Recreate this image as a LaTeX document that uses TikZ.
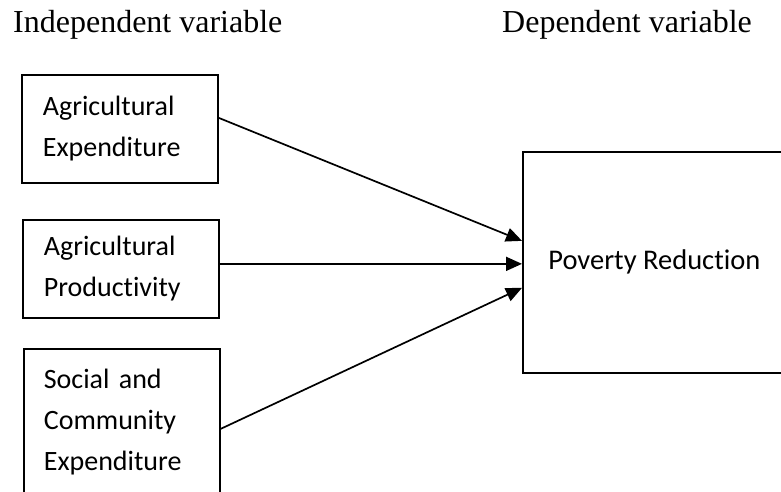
\documentclass[tikz,border=0pt]{standalone}
\usepackage{fontspec}
\setmainfont{Liberation Serif}
\newfontfamily\boxfont[Ligatures=CommonOff]{Carlito}
\usetikzlibrary{arrows.meta}
\tikzset{
  varbox/.style={draw, line width=1.7pt, anchor=north west, align=left,
    font=\boxfont\fontsize{28}{41}\selectfont, inner xsep=0pt, inner ysep=0pt,
    text width=196pt, minimum width=196pt},
  header/.style={anchor=base west, inner sep=0pt, font=\fontsize{32}{38}\selectfont},
  link/.style={line width=1.7pt, -{Triangle[length=16pt,width=14pt]}}
}
\begin{document}
\begin{tikzpicture}[x=1pt,y=-1pt]
\clip (0,0) rectangle (781,491);
\fill[white] (0,0) rectangle (781,491);
\node[header] (hi) at (13,32) {Independent variable};
\node[header] (hd) at (502,32) {Dependent variable};
\node[varbox, minimum height=108pt] (b1) at (21,74) {\hspace*{21pt}Agricultural\\\hspace*{21pt}Expenditure};
\node[varbox, minimum height=98pt] (b2) at (22,219) {\hspace*{21pt}Agricultural\\\hspace*{21pt}Productivity};
\node[varbox, minimum height=147pt] (b3) at (23,348) {\hspace*{20pt}Social and\\\hspace*{20pt}Community\\\hspace*{20pt}Expenditure};
\node[draw, line width=1.7pt, anchor=north west, minimum width=263pt, minimum height=221pt,
  inner sep=0pt, font=\boxfont\fontsize{28.5}{34}\selectfont] (pr) at (522,151) {Poverty Reduction};
\draw[link] ([yshift=11pt]b1.east) -- ([yshift=21.5pt]pr.west);
\draw[link] ([yshift=5pt]b2.east) -- ([yshift=-1.5pt]pr.west);
\draw[link] ([yshift=-6.5pt]b3.east) -- ([yshift=-25.5pt]pr.west);
\end{tikzpicture}
\end{document}
